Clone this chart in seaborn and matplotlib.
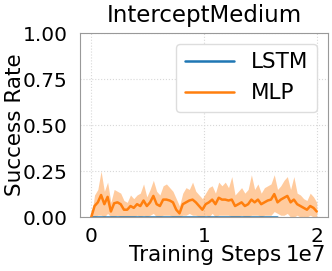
import numpy as np
import pandas as pd
import matplotlib
matplotlib.use("Agg")
import matplotlib.pyplot as plt
import seaborn as sns

# MLP success rate (mean, lower, upper)
mlp_mean = [0.00, 0.06, 0.08, 0.12, 0.07, 0.11, 0.03, 0.075, 0.08, 0.07,
            0.04, 0.04, 0.06, 0.05, 0.07, 0.06, 0.09, 0.06, 0.08, 0.115,
            0.07, 0.06, 0.095, 0.095, 0.09, 0.08, 0.04, 0.02, 0.07, 0.08,
            0.09, 0.095, 0.08, 0.06, 0.04, 0.07, 0.08, 0.095, 0.07, 0.105,
            0.095, 0.095, 0.09, 0.095, 0.06, 0.07, 0.08, 0.06, 0.07, 0.095,
            0.08, 0.095, 0.07, 0.08, 0.09, 0.095, 0.125, 0.08, 0.095, 0.105,
            0.115, 0.08, 0.095, 0.07, 0.06, 0.05, 0.04, 0.06, 0.05, 0.03]
mlp_upper = [0.00, 0.12, 0.15, 0.25, 0.14, 0.19, 0.08, 0.15, 0.14, 0.13,
             0.09, 0.08, 0.12, 0.10, 0.12, 0.13, 0.18, 0.11, 0.15, 0.20,
             0.14, 0.12, 0.17, 0.18, 0.16, 0.14, 0.10, 0.06, 0.13, 0.16,
             0.15, 0.19, 0.14, 0.12, 0.10, 0.13, 0.16, 0.17, 0.13, 0.19,
             0.17, 0.19, 0.16, 0.22, 0.12, 0.14, 0.16, 0.13, 0.15, 0.23,
             0.15, 0.18, 0.13, 0.16, 0.17, 0.18, 0.23, 0.15, 0.17, 0.20,
             0.22, 0.15, 0.22, 0.13, 0.12, 0.10, 0.09, 0.13, 0.11, 0.08]
mlp_lower = [0.00, 0.00, 0.01, 0.01, 0.00, 0.02, 0.00, 0.00, 0.01, 0.00,
             0.00, 0.00, 0.00, 0.00, 0.01, 0.00, 0.01, 0.00, 0.01, 0.02,
             0.00, 0.00, 0.01, 0.01, 0.01, 0.00, 0.00, 0.00, 0.01, 0.01,
             0.02, 0.01, 0.01, 0.00, 0.00, 0.01, 0.00, 0.02, 0.00, 0.01,
             0.01, 0.01, 0.01, 0.00, 0.00, 0.00, 0.01, 0.00, 0.00, 0.01,
             0.01, 0.01, 0.00, 0.01, 0.01, 0.01, 0.03, 0.02, 0.01, 0.01,
             0.02, 0.00, 0.00, 0.01, 0.00, 0.00, 0.00, 0.01, 0.00, 0.00]
mlp_end = 2.0e7

# LSTM stays at zero and stops earlier
lstm_mean = [0.0] * 30
lstm_end = 1.65e7

mlp_steps = np.linspace(0, mlp_end, len(mlp_mean))
lstm_steps = np.linspace(0, lstm_end, len(lstm_mean))

df = pd.concat([
    pd.DataFrame({"step": lstm_steps, "rate": lstm_mean, "model": "LSTM"}),
    pd.DataFrame({"step": mlp_steps, "rate": mlp_mean, "model": "MLP"}),
])

sns.set_style("whitegrid", {"grid.linestyle": ":", "grid.color": "#d8d8d8",
                            "axes.edgecolor": "#999999",
                            "text.color": "black",
                            "axes.labelcolor": "black",
                            "xtick.color": "black", "ytick.color": "black"})
plt.rcParams["font.family"] = ["DejaVu Sans"]

fig = plt.figure(figsize=(3.32, 2.71), dpi=100)
ax = fig.add_axes([0.241, 0.199, 0.747, 0.679])

palette = {"LSTM": "tab:blue", "MLP": "tab:orange"}
sns.lineplot(data=df, x="step", y="rate", hue="model", palette=palette,
             linewidth=1.8, ax=ax)
ax.fill_between(mlp_steps, mlp_lower, mlp_upper, color="tab:orange",
                alpha=0.4, linewidth=0)

ax.set_ylim(0, 1)
ax.set_yticks([0, 0.25, 0.5, 0.75, 1.0])
ax.set_xticks([0, 1e7, 2e7])
ax.set_xlim(-0.1e7, 2.1e7)
ax.set_title("InterceptMedium", fontsize=16.5, pad=8)
ax.set_xlabel("Training Steps", fontsize=15.5)
ax.xaxis.set_label_coords(0.504, -0.15)
ax.set_ylabel("Success Rate", fontsize=15.5)
ax.yaxis.set_label_coords(-0.222, 0.5)
ax.tick_params(axis="x", labelsize=14.5, pad=3.5)
ax.tick_params(axis="y", labelsize=14.5, pad=5.5)
ax.xaxis.get_offset_text().set_visible(False)
ax.text(0.831, -0.15, "1e7", transform=ax.transAxes, ha="left", va="top",
        fontsize=15.5)

ax.legend(title=None, fontsize=15.5, loc="upper right", framealpha=1,
          edgecolor="#dddddd", handlelength=2.3, borderpad=0.4)

fig.savefig("out.png", dpi=100)
